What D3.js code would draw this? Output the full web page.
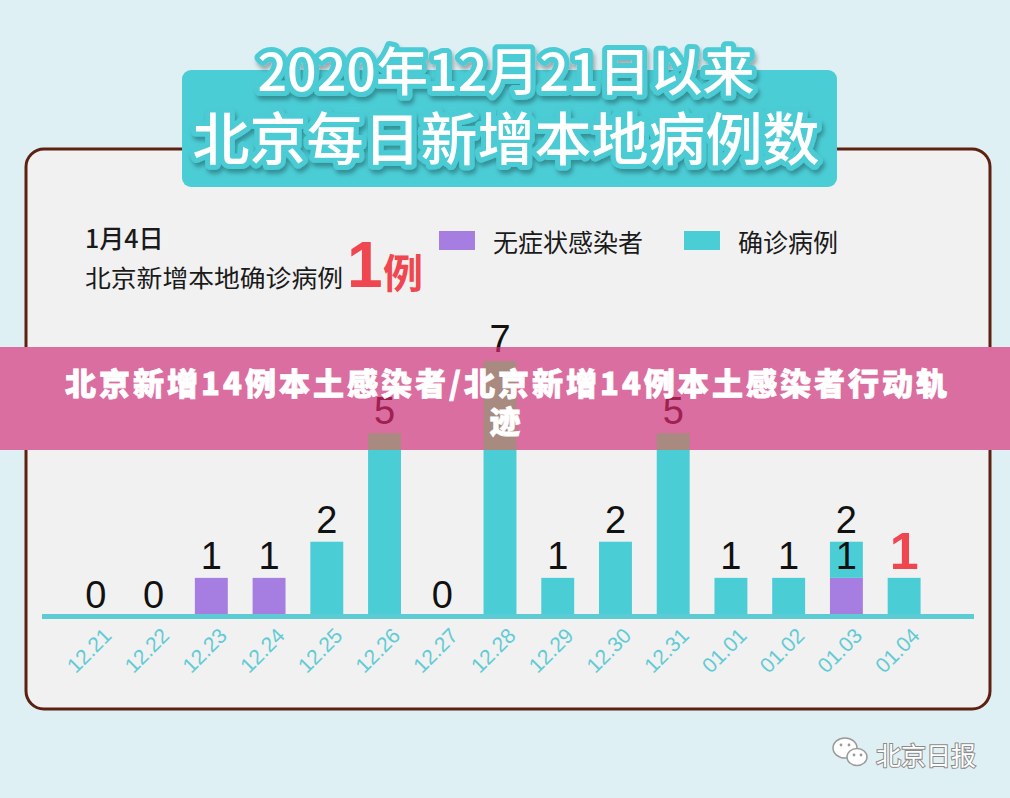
<!DOCTYPE html>
<html>
<head>
<meta charset="utf-8">
<script src="https://cdn.jsdelivr.net/npm/d3@7"></script>
<style>
  html, body { margin: 0; padding: 0; background: #dff0f4; }
  svg { display: block; }
</style>
</head>
<body>
<div id="chart"></div>
<script>
// data
const days = ["12.21", "12.22", "12.23", "12.24", "12.25", "12.26", "12.27", "12.28",
              "12.29", "12.30", "12.31", "01.01", "01.02", "01.03", "01.04"];
const confirmed    = [0, 0, 0, 0, 2, 5, 0, 7, 1, 2, 5, 1, 1, 1, 1];
const asymptomatic = [0, 0, 1, 1, 0, 0, 0, 0, 0, 0, 0, 0, 0, 1, 0];
const seriesNames = ["无症状感染者", "确诊病例"];
const titleLines = ["2020年12月21日以来", "北京每日新增本地病例数"];
const bannerLines = ["北京新增14例本土感染者/北京新增14例本土感染者行动轨", "迹"];

const W = 1010, H = 798;
const cjk = "'Noto Sans CJK SC', 'Noto Sans', sans-serif";
const num = "'Liberation Sans', Arial, sans-serif";
const teal = "#4bcdd6", purple = "#a67de0";

const svg = d3.select("#chart").append("svg")
    .attr("width", W).attr("height", H);

const defs = svg.append("defs");
const shadow = defs.append("filter").attr("id", "tshadow")
    .attr("x", "-10%").attr("y", "-20%").attr("width", "120%").attr("height", "150%");
shadow.append("feDropShadow").attr("dx", 2).attr("dy", 4).attr("stdDeviation", 2)
    .attr("flood-color", "#000").attr("flood-opacity", 0.3);
defs.append("clipPath").attr("id", "bandClip")
    .append("rect").attr("x", 0).attr("y", 347).attr("width", W).attr("height", 103);

// background
svg.append("rect").attr("width", W).attr("height", H).attr("fill", "#dff0f4");

// panel
svg.append("rect")
    .attr("x", 26).attr("y", 149).attr("width", 964).attr("height", 560)
    .attr("rx", 18)
    .attr("fill", "#f1f1f1").attr("stroke", "#5c2110").attr("stroke-width", 3);

// title box
svg.append("rect")
    .attr("x", 182).attr("y", 70).attr("width", 655).attr("height", 117)
    .attr("rx", 9).attr("fill", teal);

svg.append("g").selectAll("text")
    .data(titleLines)
    .join("text")
    .attr("x", 506)
    .attr("y", (d, i) => i === 0 ? 68 : 135)
    .attr("text-anchor", "middle")
    .attr("dominant-baseline", "central")
    .attr("font-family", cjk)
    .attr("font-weight", 500)
    .attr("font-size", (d, i) => i === 0 ? 52 : 57)
    .attr("fill", "#fff")
    .attr("stroke", "#4ccbd3").attr("stroke-width", 10)
    .attr("stroke-linejoin", "round")
    .attr("paint-order", "stroke")
    .attr("filter", "url(#tshadow)")
    .text(d => d);

// header text left
svg.append("text")
    .attr("x", 85).attr("y", 237)
    .attr("dominant-baseline", "central")
    .attr("font-family", cjk).attr("font-weight", 500).attr("font-size", 25)
    .attr("fill", "#1a1a1a")
    .text("1月4日");
svg.append("text")
    .attr("x", 85).attr("y", 276)
    .attr("dominant-baseline", "central")
    .attr("font-family", cjk).attr("font-size", 24)
    .attr("fill", "#1a1a1a")
    .attr("textLength", 258).attr("lengthAdjust", "spacingAndGlyphs")
    .text("北京新增本地确诊病例");
svg.append("text")
    .attr("x", 347).attr("y", 287)
    .attr("font-family", num).attr("font-weight", "bold").attr("font-size", 64)
    .attr("fill", "#f0464f")
    .text(confirmed[confirmed.length - 1]);
svg.append("text")
    .attr("x", 383).attr("y", 271)
    .attr("dominant-baseline", "central")
    .attr("font-family", cjk).attr("font-weight", "bold").attr("font-size", 40)
    .attr("fill", "#f0464f")
    .text("例");

// legend
const legend = svg.append("g").selectAll("g")
    .data(seriesNames)
    .join("g")
    .attr("transform", (d, i) => `translate(${i === 0 ? 439 : 684}, 231)`);
legend.append("rect")
    .attr("width", 36).attr("height", 19)
    .attr("fill", (d, i) => i === 0 ? purple : teal);
legend.append("text")
    .attr("x", 54).attr("y", 10)
    .attr("dominant-baseline", "central")
    .attr("font-family", cjk).attr("font-size", 25)
    .attr("fill", "#1a1a1a")
    .text(d => d);

// scales
const x = d3.scaleBand()
    .domain(days)
    .range([67, 933])
    .paddingInner(0.43)
    .paddingOuter(0.215);

const y = d3.scaleLinear()
    .domain([0, 7])
    .range([614, 361]);

const rows = days.map((d, i) => ({ day: d, asym: asymptomatic[i], conf: confirmed[i] }));
const stacked = d3.stack().keys(["asym", "conf"])(rows);
const colors = { asym: purple, conf: teal };

// labels: total on top, plus the asymptomatic part where both exist
const labels = [];
rows.forEach((r, i) => {
    const total = r.asym + r.conf;
    labels.push({ day: r.day, v: total, yv: total, last: i === rows.length - 1 });
    if (r.asym > 0 && r.conf > 0) labels.push({ day: r.day, v: r.asym, yv: r.asym, last: false });
});

function drawBars(g, tinted) {
    g.selectAll("g.series")
        .data(stacked)
        .join("g").attr("class", "series")
        .attr("fill", s => tinted ? "#a98a80" : colors[s.key])
        .selectAll("rect")
        .data(s => s.map(p => ({ p, day: p.data.day })))
        .join("rect")
        .attr("x", d => x(d.day))
        .attr("width", x.bandwidth())
        .attr("y", d => y(d.p[1]))
        .attr("height", d => y(d.p[0]) - y(d.p[1]));

    g.selectAll("text.val")
        .data(labels)
        .join("text").attr("class", "val")
        .attr("x", d => x(d.day) + x.bandwidth() / 2)
        .attr("y", d => d.v === 0 ? y(0) - 6 : y(d.yv) - 9)
        .attr("text-anchor", "middle")
        .attr("font-family", num)
        .attr("font-size", d => d.last ? 52 : 38)
        .attr("font-weight", d => d.last ? "bold" : "normal")
        .attr("fill", d => tinted ? "#9e2150" : (d.last ? "#f0464f" : "#111"))
        .text(d => d.v);
}

const plot = svg.append("g");
drawBars(plot, false);

// baseline
svg.append("line")
    .attr("x1", 42).attr("x2", 974)
    .attr("y1", 616.5).attr("y2", 616.5)
    .attr("stroke", "#5ccbd3").attr("stroke-width", 5);

// x axis
const xAxis = svg.append("g")
    .attr("transform", "translate(0, 617)")
    .call(d3.axisBottom(x).tickSize(0));
xAxis.select(".domain").remove();
xAxis.selectAll("text")
    .attr("x", 0).attr("y", 0).attr("dy", 0)
    .attr("transform", "translate(17, 20) rotate(-45)")
    .attr("text-anchor", "end")
    .attr("font-family", num)
    .attr("font-size", 21)
    .attr("fill", "#62cbd4");

// pink banner across the chart
svg.append("rect")
    .attr("x", 0).attr("y", 347).attr("width", W).attr("height", 103)
    .attr("fill", "#da6ea0");
const tinted = svg.append("g").attr("clip-path", "url(#bandClip)");
drawBars(tinted, true);

svg.append("g").selectAll("text")
    .data(bannerLines)
    .join("text")
    .attr("x", (d, i) => i === 0 ? 65 : 505)
    .attr("y", (d, i) => i === 0 ? 381 : 419)
    .attr("text-anchor", (d, i) => i === 0 ? "start" : "middle")
    .attr("dominant-baseline", "central")
    .attr("font-family", cjk)
    .attr("font-weight", 900)
    .attr("font-size", 31)
    .attr("fill", "#fff")
    .attr("stroke", "#fff").attr("stroke-width", 0.8)
    .attr("textLength", (d, i) => i === 0 ? 882 : null)
    .attr("lengthAdjust", "spacing")
    .text(d => d);

// watermark
const wm = svg.append("g");
wm.append("ellipse").attr("cx", 845).attr("cy", 748).attr("rx", 12).attr("ry", 10)
    .attr("fill", "#fff").attr("stroke", "#9a9a9a").attr("stroke-width", 1.5);
wm.append("ellipse").attr("cx", 857).attr("cy", 757).attr("rx", 10).attr("ry", 8.5)
    .attr("fill", "#fff").attr("stroke", "#9a9a9a").attr("stroke-width", 1.5);
[[841, 745], [849, 745], [854, 755], [861, 755]].forEach(p => {
    wm.append("circle").attr("cx", p[0]).attr("cy", p[1]).attr("r", 1.4).attr("fill", "#9a9a9a");
});
wm.append("text")
    .attr("x", 876).attr("y", 765)
    .attr("font-family", cjk).attr("font-size", 25)
    .attr("fill", "#fff")
    .attr("stroke", "#8a8a8a").attr("stroke-width", 2)
    .attr("paint-order", "stroke")
    .text("北京日报");
</script>
</body>
</html>
